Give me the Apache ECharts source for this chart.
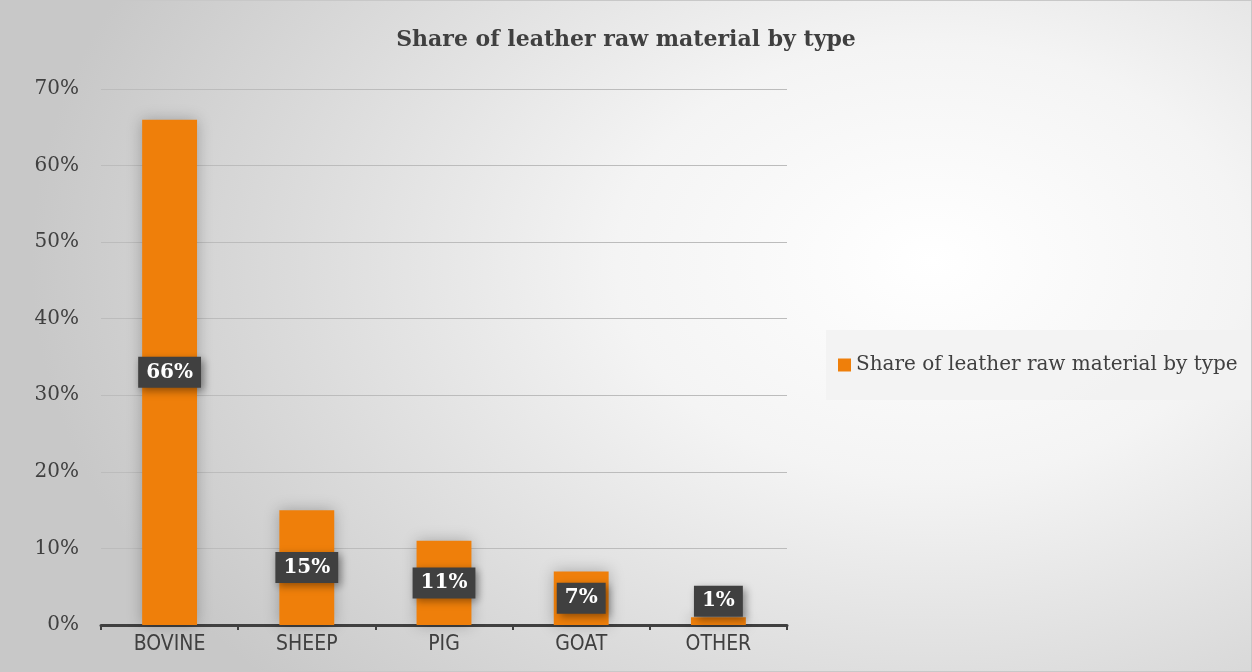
<!DOCTYPE html>
<html lang="en">
<head>
    <meta charset="UTF-8">
    <title>Share of leather raw material by type</title>
    <script type="text/javascript" src="https://cdn.jsdelivr.net/npm/echarts@6/dist/echarts.min.js"></script>
    <style>
        html, body { margin: 0; padding: 0; }
        #bar {
            width: 1250px; height: 670px;
            border: 1px solid #c8c8c8;
            background: radial-gradient(ellipse 900px 620px at 930px 260px, #ffffff 0%, #f4f4f4 35%, #dcdcdc 70%, #c8c8c8 100%);
        }
    </style>
</head>
<body>
<div id="bar"></div>
<script type="text/javascript">
    var title = 'Share of leather raw material by type';
    var categories = ['BOVINE', 'SHEEP', 'PIG', 'GOAT', 'OTHER'];
    var shares = [66, 15, 11, 7, 1];
    var yTicks = [0, 10, 20, 30, 40, 50, 60, 70];

    var serif = '"DejaVu Serif", "Liberation Serif", serif';

    var barData = shares.map(function (v, i) {
        var d = { value: v };
        if (v < 3) {
            d.label = { offset: [0, -20] };
        }
        return d;
    });

    var mychart = echarts.init(document.getElementById('bar'));
    var option = {
        backgroundColor: 'transparent',
        title: {
            text: title,
            left: 'center',
            top: 23,
            textStyle: { fontFamily: serif, fontWeight: 'bold', fontSize: 22, color: '#404040' }
        },
        legend: {
            data: [title],
            left: 825,
            top: 329,
            padding: [25, 14, 25, 12],
            backgroundColor: 'rgba(242,242,242,0.9)',
            icon: 'rect',
            itemWidth: 13,
            itemHeight: 13,
            itemGap: 4,
            textStyle: { fontFamily: serif, fontSize: 20, color: '#404040' }
        },
        grid: { left: 100, right: 464, top: 88, bottom: 46 },
        xAxis: {
            type: 'category',
            data: categories,
            axisLine: { lineStyle: { color: '#404040', width: 3 } },
            axisTick: { show: true, length: 5, lineStyle: { color: '#404040', width: 2 } },
            axisLabel: { fontFamily: '"DejaVu Sans Condensed", "Open Sans", sans-serif', fontSize: 21, color: '#404040', margin: 9 }
        },
        yAxis: {
            type: 'value',
            min: yTicks[0],
            max: yTicks[yTicks.length - 1],
            interval: 10,
            axisLine: { show: false },
            axisTick: { show: false },
            splitLine: { lineStyle: { color: '#bcbcbc', width: 1 } },
            axisLabel: {
                formatter: '{value}%',
                fontFamily: serif, fontSize: 20, color: '#404040', margin: 22
            }
        },
        series: [{
            name: title,
            type: 'bar',
            data: barData,
            barWidth: '40%',
            itemStyle: {
                color: '#ef7f0a',
                shadowBlur: 14,
                shadowColor: 'rgba(0,0,0,0.25)'
            },
            label: {
                show: true,
                position: 'inside',
                formatter: '{c}%',
                fontFamily: serif,
                fontWeight: 'bold',
                fontSize: 20,
                color: '#ffffff',
                backgroundColor: '#404040',
                padding: [6, 8, 5, 8],
                shadowBlur: 8,
                shadowOffsetX: 3,
                shadowOffsetY: 3,
                shadowColor: 'rgba(0,0,0,0.4)'
            }
        }]
    };
    mychart.setOption(option);
</script>
</body>
</html>
